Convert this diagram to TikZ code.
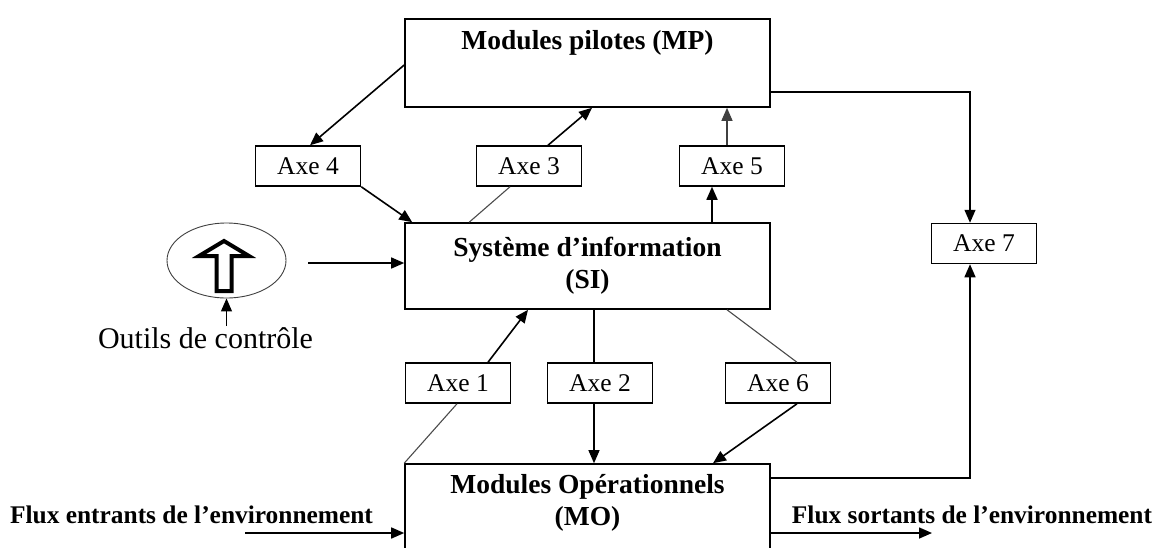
\documentclass[tikz,border=0pt]{standalone}
\usepackage{fontspec}
\setmainfont{Liberation Serif}
\usetikzlibrary{arrows.meta,shapes.geometric}
\begin{document}
\begin{tikzpicture}[x=1pt,y=-1pt,
  box/.style={draw,line width=1.6pt,minimum width=365pt,inner sep=0pt},
  axebox/.style={draw,line width=1.5pt,minimum width=105pt,minimum height=40pt,inner sep=0pt,
    font=\fontsize{25.5}{30}\selectfont},
  title/.style={font=\bfseries\fontsize{27.5}{32}\selectfont,align=center,inner sep=0pt},
  flux/.style={font=\bfseries\fontsize{25.4}{30}\selectfont,inner sep=0pt},
  arr/.style={line width=1.6pt,-{Triangle[length=13pt,width=11pt]}},
  thin/.style={line width=1.1pt,draw=black!70},
  link/.style={line width=1.4pt}]
\clip (0,0) rectangle (1156,547);
\fill[white] (0,0) rectangle (1156,547);

% main modules
\node[box,minimum height=88pt] (MP) at (587.5,63) {};
\node[title] (MPt) at (587.5,43) {Modules pilotes (MP)};
\node[box,minimum height=86pt,title,draw,line width=1.6pt] (SI) at (587.5,266) {Système d’information\\(SI)};
\node[box,minimum height=130pt] (MO) at (587.5,529) {};
\node[title] (MOt) at (587.5,502.5) {Modules Opérationnels\\(MO)};

% axes
\node[axebox] (Axe4) at (308,166) {Axe 4};
\node[axebox] (Axe3) at (529,166) {Axe 3};
\node[axebox] (Axe5) at (732,166) {Axe 5};
\node[axebox] (Axe7) at (984,243.5) {Axe 7};
\node[axebox] (Axe1) at (458,383) {Axe 1};
\node[axebox] (Axe2) at (600,383) {Axe 2};
\node[axebox] (Axe6) at (778,383) {Axe 6};

% control tools
\node[ellipse,draw=black!75,line width=0.9pt,minimum width=119pt,minimum height=75pt,inner sep=0pt] (ctl) at (226.5,260.5) {};
\begin{scope}[shift={(ctl.center)}]
  \draw[line width=4pt,line join=miter]
    (-2.5,-19.5) -- (22.5,-4.5) -- (5,-4.5) -- (5,30.5) -- (-10,30.5)
    -- (-10,-4.5) -- (-27.5,-4.5) -- cycle;
\end{scope}
\node[inner sep=1pt,font=\fontsize{30}{34}\selectfont] (outils) at (205.5,338) {Outils de contrôle};

% environment flows
\node[flux] (fe) at (191.5,515) {Flux entrants de l’environnement};
\node[flux] (fs) at (972,515) {Flux sortants de l’environnement};
\coordinate (fin) at (245,533);
\coordinate (fout) at (932,533);

% connectors
\draw[arr] ([yshift=-2]MP.west) -- ([xshift=2]Axe4.north);
\draw[arr] (Axe4.south east) -- ([xshift=8]SI.north west);
\draw[thin] ([xshift=-19]Axe3.south) -- ([xshift=65]SI.north west);
\draw[arr] ([xshift=19]Axe3.north) -- ([xshift=4.5]MP.south);
\draw[arr] ([xshift=124.5]SI.north) -- ([xshift=-20]Axe5.south);
\draw[arr,line width=1.2pt,draw=black!75] ([xshift=-5]Axe5.north) -- ([xshift=139.5]MP.south);
\draw[arr,line width=1.4pt] ([yshift=-29]MP.east) -| ([xshift=-14]Axe7.north);
\draw[arr,line width=1.4pt] ([yshift=51]MO.east) -| ([xshift=-14]Axe7.south);
\draw[arr,line width=1.4pt] ([xshift=22,yshift=-2.5]ctl.east) -- ([yshift=3]SI.west);
\draw[arr,line width=1.2pt] (ctl.south |- outils.north) -- (ctl.south);
\draw[arr] ([xshift=30]Axe1.north) -- ([xshift=-59.5]SI.south);
\draw[thin] ([xshift=-1]Axe1.south) -- (MO.north west);
\draw[link] ([xshift=6.5]SI.south) -- ([xshift=-6]Axe2.north);
\draw[arr,line width=1.2pt] ([xshift=-6]Axe2.south) -- ([xshift=6.5]MO.north);
\draw[thin] ([xshift=139.5]SI.south) -- ([xshift=19]Axe6.north);
\draw[arr] ([xshift=19]Axe6.south) -- ([xshift=125.5]MO.north);
\draw[arr] (fin) -- (fin -| MO.west);
\draw[arr] (fout -| MO.east) -- (fout);
\end{tikzpicture}
\end{document}
